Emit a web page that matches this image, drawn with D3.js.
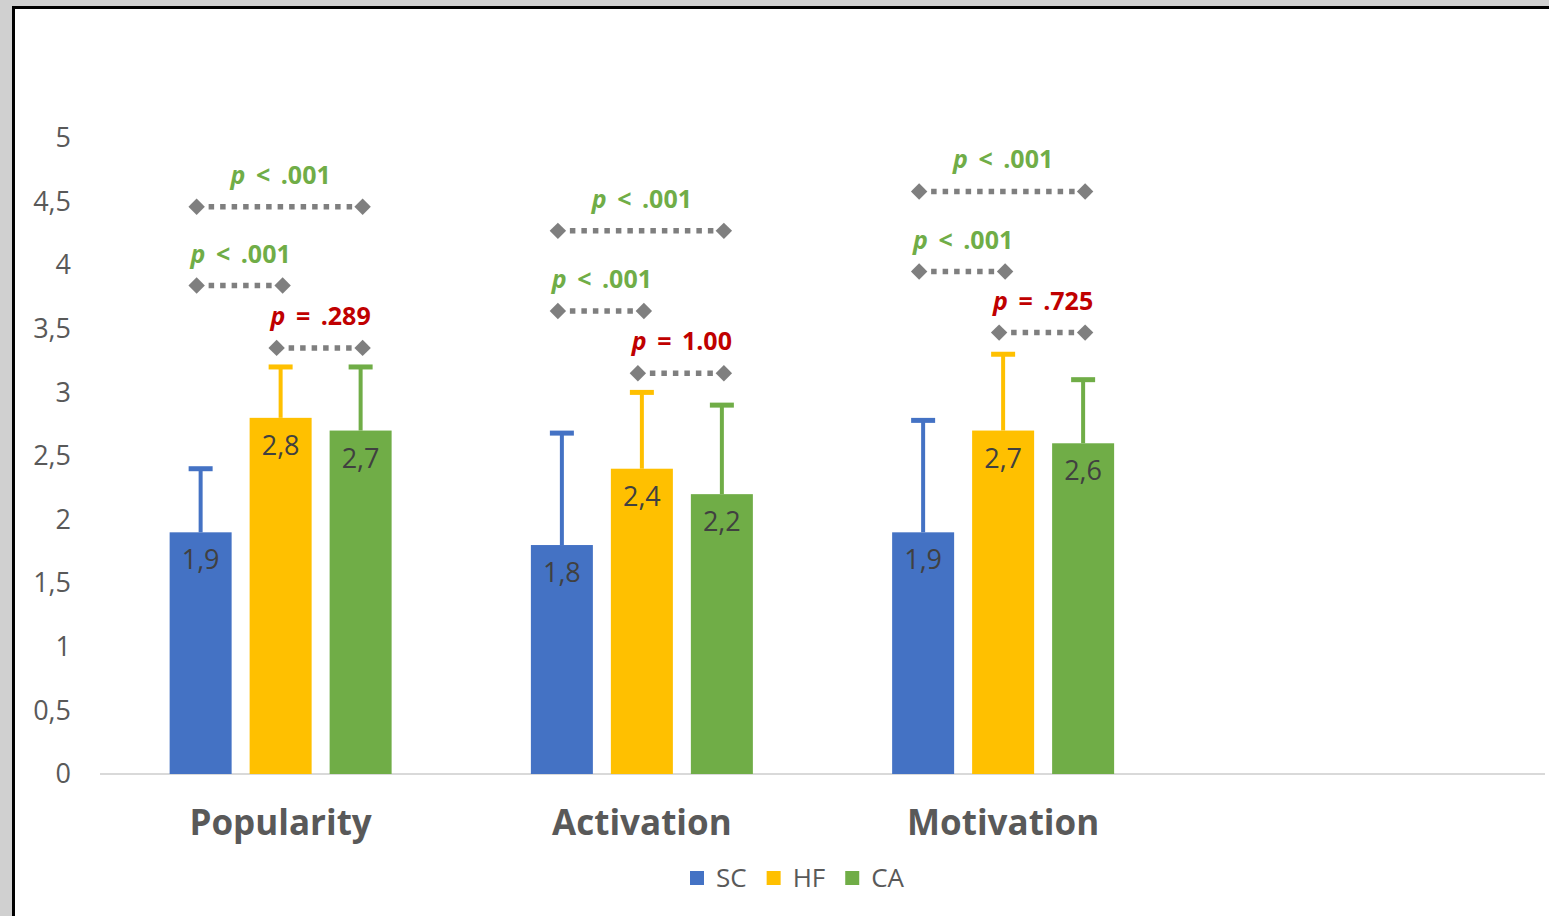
<!DOCTYPE html>
<html>
<head>
<meta charset="utf-8">
<script src="https://cdn.jsdelivr.net/npm/d3@7"></script>
<style>
    body { margin: 0; background: #d0d0d0; }
    svg { display: block; font-family: "Open Sans", "Noto Sans", sans-serif; }
</style>
</head>
<body>
<svg id="drawing_region"></svg>
<script>
const categories = ['Popularity', 'Activation', 'Motivation'];
const groups = ['SC', 'HF', 'CA'];
const colors = ['#4472c4', '#ffc000', '#70ad47'];

// means per group, in category order
const sc_values = [1.9, 1.8, 1.9];
const hf_values = [2.8, 2.4, 2.7];
const ca_values = [2.7, 2.2, 2.6];

// upper error amounts
const sc_errors = [0.5, 0.88, 0.88];
const hf_errors = [0.4, 0.6, 0.6];
const ca_errors = [0.5, 0.7, 0.5];

const y_ticks = [0, 0.5, 1, 1.5, 2, 2.5, 3, 3.5, 4, 4.5, 5];

// pairwise comparisons drawn above the bars
const comparisons = [
    { cat: 'Popularity', from: 'SC', to: 'CA', level: 4.46, text: '< .001', sig: true },
    { cat: 'Popularity', from: 'SC', to: 'HF', level: 3.84, text: '< .001', sig: true },
    { cat: 'Popularity', from: 'HF', to: 'CA', level: 3.35, text: '= .289', sig: false },
    { cat: 'Activation', from: 'SC', to: 'CA', level: 4.27, text: '< .001', sig: true },
    { cat: 'Activation', from: 'SC', to: 'HF', level: 3.64, text: '< .001', sig: true },
    { cat: 'Activation', from: 'HF', to: 'CA', level: 3.15, text: '= 1.00', sig: false },
    { cat: 'Motivation', from: 'SC', to: 'CA', level: 4.58, text: '< .001', sig: true },
    { cat: 'Motivation', from: 'SC', to: 'HF', level: 3.95, text: '< .001', sig: true },
    { cat: 'Motivation', from: 'HF', to: 'CA', level: 3.47, text: '= .725', sig: false }
];

const value_table = [sc_values, hf_values, ca_values];
const error_table = [sc_errors, hf_errors, ca_errors];

const data = [];
categories.forEach((c, i) => {
    groups.forEach((g, j) => {
        data.push({ cat: c, group: g, value: value_table[j][i], err: error_table[j][i], color: colors[j] });
    });
});

const W = 1549, H = 916;
const svg = d3.select('#drawing_region').attr('width', W).attr('height', H);

// page frame
svg.append('rect').attr('width', W).attr('height', H).attr('fill', '#d0d0d0');
svg.append('rect')
    .attr('x', 13.5).attr('y', 7.5)
    .attr('width', W).attr('height', H)
    .attr('fill', '#fff').attr('stroke', '#000').attr('stroke-width', 3);

// 4 bands, the last one stays empty
const x0 = d3.scaleBand()
    .domain(categories.concat(['']))
    .range([100, 1545])
    .paddingInner(0.3855)
    .paddingOuter(0.3855 / 2);

const x1 = d3.scaleBand()
    .domain(groups)
    .range([0, x0.bandwidth()])
    .paddingInner(0.225);

const y = d3.scaleLinear().domain([0, 5]).range([774, 138]);

// baseline
svg.append('line')
    .attr('x1', 100).attr('x2', 1545)
    .attr('y1', y(0)).attr('y2', y(0))
    .attr('stroke', '#d9d9d9').attr('stroke-width', 2);

// y axis labels
const yaxis = d3.axisLeft(y)
    .tickValues(y_ticks)
    .tickSize(0)
    .tickPadding(0)
    .tickFormat(d => String(d).replace('.', ','));

const yaxis_group = svg.append('g')
    .attr('transform', 'translate(71, 0)')
    .call(yaxis);
yaxis_group.select('.domain').remove();
yaxis_group.selectAll('text')
    .attr('font-size', 27)
    .attr('font-family', '"Open Sans", sans-serif')
    .attr('fill', '#595959');

// category labels
const xaxis = d3.axisBottom(x0).tickSize(0).tickPadding(0);
const xaxis_group = svg.append('g')
    .attr('transform', 'translate(0, 810)')
    .call(xaxis);
xaxis_group.select('.domain').remove();
xaxis_group.selectAll('text')
    .attr('font-size', 35)
    .attr('font-weight', 'bold')
    .attr('font-family', '"Open Sans", sans-serif')
    .attr('fill', '#595959');

const bx = d => x0(d.cat) + x1(d.group);
const cx = d => bx(d) + x1.bandwidth() / 2;

// bars
svg.append('g').selectAll('rect')
    .data(data)
    .join('rect')
    .attr('x', bx)
    .attr('y', d => y(d.value))
    .attr('width', x1.bandwidth())
    .attr('height', d => y(0) - y(d.value))
    .attr('fill', d => d.color);

// error bars
const err = svg.append('g').selectAll('g')
    .data(data)
    .join('g');
err.append('line')
    .attr('x1', cx).attr('x2', cx)
    .attr('y1', d => y(d.value)).attr('y2', d => y(d.value + d.err))
    .attr('stroke', d => d.color).attr('stroke-width', 4);
err.append('line')
    .attr('x1', d => cx(d) - 12).attr('x2', d => cx(d) + 12)
    .attr('y1', d => y(d.value + d.err)).attr('y2', d => y(d.value + d.err))
    .attr('stroke', d => d.color).attr('stroke-width', 5);

// value labels
svg.append('g').selectAll('text')
    .data(data)
    .join('text')
    .attr('x', cx)
    .attr('y', d => y(d.value) + 37)
    .attr('text-anchor', 'middle')
    .attr('font-size', 27)
    .attr('fill', '#404040')
    .text(d => String(d.value).replace('.', ','));

// comparison brackets
const px = (c, g) => x0(c) + x1(g) + x1.bandwidth() / 2;
const diamond = d3.symbol(d3.symbolSquare, 135);

const comp = svg.append('g').selectAll('g')
    .data(comparisons)
    .join('g');

comp.append('line')
    .attr('x1', d => px(d.cat, d.from) + 8)
    .attr('x2', d => px(d.cat, d.to) - 8)
    .attr('y1', d => y(d.level)).attr('y2', d => y(d.level))
    .attr('stroke', '#7f7f7f')
    .attr('stroke-width', 5.5)
    .attr('stroke-dasharray', '5.5 6');

comp.each(function (d) {
    const g = d3.select(this);
    [px(d.cat, d.from) - 4, px(d.cat, d.to) + 2].forEach(xp => {
        g.append('path')
            .attr('d', diamond())
            .attr('transform', `translate(${xp}, ${y(d.level)}) rotate(45)`)
            .attr('fill', '#7f7f7f');
    });
});

const ptext = comp.append('text')
    .attr('x', d => (px(d.cat, d.from) + px(d.cat, d.to)) / 2)
    .attr('y', d => y(d.level) - 23)
    .attr('text-anchor', 'middle')
    .attr('font-size', 25)
    .attr('font-weight', 'bold')
    .attr('word-spacing', 4)
    .attr('fill', d => d.sig ? '#70ad47' : '#c00000');
ptext.append('tspan').attr('font-style', 'italic').text('p');
ptext.append('tspan').text(d => ' ' + d.text);

// legend
const legend = svg.append('g').attr('transform', 'translate(690, 878)');
let lx = 0;
groups.forEach((g, i) => {
    legend.append('rect')
        .attr('x', lx).attr('y', -7)
        .attr('width', 14).attr('height', 14)
        .attr('fill', colors[i]);
    const t = legend.append('text')
        .attr('x', lx + 26).attr('y', 9)
        .attr('font-size', 26)
        .attr('fill', '#595959')
        .text(g);
    lx += 26 + t.node().getComputedTextLength() + 20;
});
</script>
</body>
</html>
